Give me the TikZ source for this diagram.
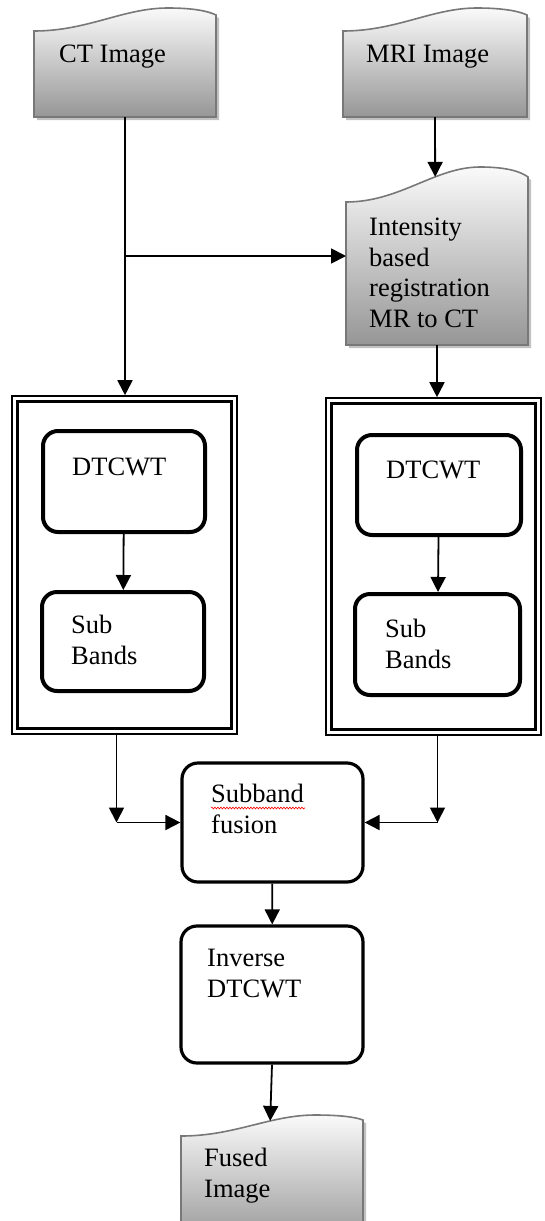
\documentclass[tikz,border=0pt]{standalone}
\usepackage{fontspec}
\setmainfont{Liberation Serif}
\usepackage{xcolor}
\definecolor{docedge}{RGB}{120, 120, 120}
\definecolor{doctop}{RGB}{250, 250, 250}
\definecolor{docbottom}{RGB}{150, 150, 150}
\usepackage{tikz}
\usetikzlibrary{arrows.meta, positioning, calc, shadows, fit, decorations.pathmorphing}

\begin{document}
\begin{tikzpicture}[x=1pt, y=-1pt,
  docshape/.style={draw=docedge, line width=1.6pt, top color=doctop, bottom color=docbottom,
    drop shadow={shadow xshift=3pt, shadow yshift=-3pt, fill=black!30, opacity=0.8}},
  area/.style={inner sep=0pt, outer sep=0pt},
  frame/.style={draw, line width=1.6pt, inner sep=0pt},
  stepbox/.style={draw, line width=4pt, rounded corners=15pt, inner sep=0pt},
  fusebox/.style={draw, line width=3.2pt, rounded corners=16pt, inner sep=0pt},
  lbl/.style={anchor=base west, inner sep=0pt, align=left, font=\fontsize{26.5}{30.5}\selectfont},
  arr/.style={line width=1.8pt, -{Triangle[width=15pt,length=15pt]}}]

  \useasboundingbox[fill=white] (0,0) rectangle (545,1221);

  % Input images
  \draw[docshape] (34,117) -- (34,31) .. controls (88,31) and (123,8) .. (168,8)
    .. controls (193,8) and (208,11) .. (216,15) -- (216,117) -- cycle;
  \node[area, fit={(34,8) (216,117)}] (ct) {};
  \node[lbl] (ct-t) at (59,62) {CT Image};

  \draw[docshape] (343,117) -- (343,31) .. controls (397,31) and (432,8) .. (477,8)
    .. controls (502,8) and (519,11) .. (527,15) -- (527,117) -- cycle;
  \node[area, fit={(343,8) (527,117)}] (mri) {};
  \node[lbl] (mri-t) at (366,62) {MRI Image};

  % Registration
  \draw[docshape] (346,345) -- (346,202) .. controls (400,202) and (435,167) .. (480,167)
    coordinate[pos=0.65] (regtop)
    .. controls (505,167) and (520,171) .. (528,177) -- (528,345) -- cycle;
  \node[area, fit={(346,167) (528,345)}] (reg) {};
  \node[lbl] (reg-t) at (369,327) {Intensity\\based\\registration\\MR to CT};

  % Transform frames
  \node[frame, fit={(12,396) (237,734)}] (ctframe) {};
  \draw[line width=3pt] ($(ctframe.north west)+(6,6)$) rectangle ($(ctframe.south east)+(-6,-6)$);
  \node[frame, fit={(326,398) (541,735)}] (mriframe) {};
  \draw[line width=3pt] ($(mriframe.north west)+(6,6)$) rectangle ($(mriframe.south east)+(-6,-6)$);

  \node[stepbox, fit={(43,431) (205,532)}] (ctdt) {};
  \node[lbl] (ctdt-t) at (72,475) {DTCWT};
  \node[stepbox, fit={(42,592) (204,691)}] (ctsb) {};
  \node[lbl] (ctsb-t) at (71,664) {Sub\\Bands};

  \node[stepbox, fit={(357,435) (521,535)}] (mridt) {};
  \node[lbl] (mridt-t) at (386,478) {DTCWT};
  \node[stepbox, fit={(355,594) (520,695)}] (mrisb) {};
  \node[lbl] (mrisb-t) at (385,668) {Sub\\Bands};

  % Fusion and inverse
  \node[fusebox, fit={(182,763) (363,882)}] (fus) {};
  \node[lbl] (fus-t) at (211,833) {Subband\\fusion};
  \draw[red, line width=0.6pt, decorate, decoration={snake, amplitude=0.9pt, segment length=3pt}]
    (211,808) -- (305,808);

  \node[fusebox, fit={(181,926) (363,1063)}] (inv) {};
  \node[lbl] (inv-t) at (207,997) {Inverse\\DTCWT};

  % Output image
  \draw[docshape] (181,1245) -- (181,1136) .. controls (235,1136) and (270,1115) .. (315,1115)
    coordinate[pos=0.65] (fusedtop)
    .. controls (340,1115) and (355,1117) .. (363,1120) -- (363,1245) -- cycle;
  \node[lbl] (fused-t) at (204,1197) {Fused\\Image};

  % Connectors
  \draw[arr] (ct.south) -- (ct.south |- ctframe.north);
  \draw[arr] (ct.south |- reg.west) -- (reg.west);
  \draw[arr] (mri.south) -- (regtop);
  \draw[arr] (reg.south) -- (reg.south |- mriframe.north);
  \draw[arr] (ctdt) -- (ctsb);
  \draw[arr] (mridt) -- (mrisb);

  \coordinate (ctout) at ($(ctframe.south)+(-8,0)$);
  \coordinate (mriout) at ($(mriframe.south)+(4,0)$);
  \draw[arr] (ctout) -- (ctout |- fus.west);
  \draw[arr] (ctout |- fus.west) -- (fus.west);
  \draw[arr] (mriout) -- (mriout |- fus.east);
  \draw[arr] (mriout |- fus.east) -- (fus.east);

  \draw[arr] (fus) -- (inv);
  \draw[arr] (inv.south) -- (fusedtop);

\end{tikzpicture}
\end{document}
